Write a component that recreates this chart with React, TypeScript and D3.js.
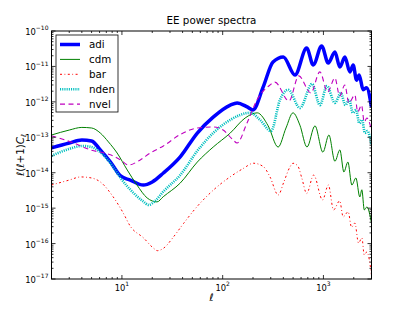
import React, { useEffect, useRef } from 'react'
import * as d3 from 'd3'

// multipoles (ell) and l(l+1)C_l values
const adiEll = [2, 3, 4, 5, 6.1, 7.7, 9.7, 12.1, 16.3, 20, 25.8, 37.9, 56, 80.5, 119, 139, 175, 200, 252, 316, 400, 522, 682, 793, 960, 1117, 1300, 1457, 1633, 1829, 1972, 2132, 2262, 2478, 2678, 3000]
const adiVal = [5.0e-14, 6.9e-14, 8.4e-14, 7.9e-14, 4.4e-14, 2.0e-14, 8.1e-15, 6.2e-15, 4.5e-15, 5.5e-15, 9.8e-15, 2.8e-14, 1.32e-13, 3.7e-13, 8.1e-13, 9.3e-13, 7.2e-13, 5.9e-13, 2.6e-12, 1.33e-11, 1.85e-11, 5.7e-12, 3.3e-11, 1.1e-11, 3.8e-11, 1.25e-11, 2.55e-11, 9.6e-12, 1.85e-11, 7.0e-12, 1.1e-11, 4.1e-12, 5.7e-12, 2.2e-12, 2.5e-12, 7.2e-13]

const cdmEll = [2, 3, 4, 5, 6.1, 7.35, 8.96, 11.3, 14.1, 17.8, 22.3, 25.7, 37.9, 56, 80.5, 119, 167, 220, 283, 355, 425, 499, 584, 687, 824, 988, 1133, 1300, 1456, 1596, 1749, 1916, 2100, 2297, 2405, 2546, 2700, 3000]
const cdmVal = [1.16e-13, 1.6e-13, 1.9e-13, 1.83e-13, 1.32e-13, 7.4e-14, 3.6e-14, 1.19e-14, 4.5e-15, 1.94e-15, 1.5e-15, 2.1e-15, 5.1e-15, 2.0e-14, 5.3e-14, 1.32e-13, 3.5e-13, 4.9e-13, 2.1e-13, 5.3e-14, 1.83e-13, 4.9e-13, 2.2e-13, 5.3e-14, 2.1e-13, 3.8e-14, 1.16e-13, 2.1e-14, 4.4e-14, 1.05e-14, 2.0e-14, 4.5e-15, 7.1e-15, 2.07e-15, 3.3e-15, 8.9e-16, 1.08e-15, 3.8e-16]

const barEll = [2, 3, 3.9, 5, 6.1, 8.2, 10.3, 12.1, 16.4, 20.6, 22.5, 25.9, 32.6, 40.9, 55.6, 81, 119, 161, 202, 254, 295, 356, 405, 465, 499, 557, 610, 682, 800, 980, 1120, 1260, 1450, 1570, 1760, 1900, 2050, 2230, 2410, 2540, 2700, 3000]
const barVal = [4.5e-15, 6.2e-15, 7.6e-15, 7.1e-15, 5.5e-15, 2.07e-15, 7.3e-16, 3.1e-16, 1.44e-16, 7.4e-17, 6.3e-17, 7.4e-17, 1.56e-16, 3.7e-16, 1.1e-15, 3.25e-15, 7.7e-15, 1.33e-14, 1.85e-14, 1.48e-14, 7.6e-15, 2.35e-15, 5.5e-15, 1.45e-14, 1.85e-14, 1.55e-14, 7.1e-15, 2.6e-15, 8.6e-15, 1.7e-15, 4.5e-15, 8.9e-16, 1.6e-15, 5.7e-16, 7.9e-16, 2.9e-16, 3.8e-16, 1.04e-16, 1.44e-16, 4.8e-17, 5.8e-17, 1.3e-17]

const ndenEll = [2, 3, 4, 5, 6.1, 8.2, 9.7, 13, 16.3, 18.4, 21.4, 25.8, 37.9, 57, 80.5, 119, 187, 235, 302, 370, 447, 585, 770, 923, 1084, 1300, 1490, 1650, 1800, 1960, 2110, 2270, 2420, 2580, 2730, 3000]
const ndenVal = [3.0e-14, 4.7e-14, 5.7e-14, 5.3e-14, 3.8e-14, 1.45e-14, 7.1e-15, 2.7e-15, 1.54e-15, 1.23e-15, 1.6e-15, 2.95e-15, 8.6e-15, 4.4e-14, 1.32e-13, 3.1e-13, 4.9e-13, 3.1e-13, 1.5e-13, 1.13e-12, 2.2e-12, 6.7e-13, 3.2e-12, 8.1e-13, 2.8e-12, 9.3e-13, 1.78e-12, 8.1e-13, 1.13e-12, 4.9e-13, 5.9e-13, 2.5e-13, 3.1e-13, 1.32e-13, 1.5e-13, 6.0e-14]

const nvelEll = [2, 3.1, 4.9, 7.7, 9.7, 11.6, 15.2, 19.1, 25.8, 37.9, 56, 80.5, 101, 127, 139, 174, 219, 295, 330, 455, 570, 750, 922, 1100, 1300, 1450, 1630, 1790, 2050, 2190, 2390, 2540, 2700, 3000]
const nvelVal = [1.1e-13, 7.4e-14, 4.4e-14, 3.2e-14, 2.3e-14, 1.65e-14, 2.3e-14, 3.6e-14, 5.7e-14, 1.2e-13, 1.83e-13, 1.95e-13, 1.6e-13, 8.4e-14, 6.9e-14, 2.5e-13, 1.13e-12, 3.0e-12, 3.6e-12, 1.06e-12, 5.4e-12, 1.78e-12, 7.0e-12, 1.9e-12, 4.7e-12, 1.46e-12, 3.0e-12, 9.3e-13, 1.56e-12, 5.2e-13, 8.1e-13, 2.7e-13, 3.5e-13, 1.6e-13]

const xDomain = [2, 3000]
const yDomain = [1e-17, 1e-10]
const xTickExponents = [1, 2, 3]
const yTickExponents = [-17, -16, -15, -14, -13, -12, -11, -10]

interface Series {
  name: string
  ell: number[]
  val: number[]
  color: string
  width: number
  dash: string | null
}

const series: Series[] = [
  { name: 'adi', ell: adiEll, val: adiVal, color: '#0000ff', width: 3.5, dash: null },
  { name: 'cdm', ell: cdmEll, val: cdmVal, color: '#008000', width: 1, dash: null },
  { name: 'bar', ell: barEll, val: barVal, color: '#ff0000', width: 1, dash: '2,2.5,0.8,2.5' },
  { name: 'nden', ell: ndenEll, val: ndenVal, color: '#00bfbf', width: 2.6, dash: '1.1,1.1' },
  { name: 'nvel', ell: nvelEll, val: nvelVal, color: '#bf00bf', width: 1.1, dash: '5,3.5' }
]

const App: React.FC = () => {
  const svgRef = useRef<SVGSVGElement | null>(null)

  useEffect(() => {
    if (!svgRef.current) {
      return
    }
    const svg = d3.select(svgRef.current)
    svg.selectAll('*').remove()

    const left = 51.5
    const right = 371.5
    const top = 31
    const bottom = 279
    const font = 'DejaVu Sans, sans-serif'

    const x = d3.scaleLog().domain(xDomain).range([left, right])
    const y = d3.scaleLog().domain(yDomain).range([bottom, top])

    svg.append('rect').attr('width', 413).attr('height', 310).attr('fill', '#fff')

    svg
      .append('clipPath')
      .attr('id', 'plot-clip')
      .append('rect')
      .attr('x', left)
      .attr('y', top)
      .attr('width', right - left)
      .attr('height', bottom - top)

    const line = d3
      .line<[number, number]>()
      .x((d) => x(d[0]))
      .y((d) => y(d[1]))
      .curve(d3.curveMonotoneX)

    const plot = svg.append('g').attr('clip-path', 'url(#plot-clip)')
    series.forEach((s) => {
      const pts = s.ell.map((e, i) => [e, s.val[i]] as [number, number])
      plot
        .append('path')
        .attr('d', line(pts) ?? '')
        .attr('fill', 'none')
        .attr('stroke', s.color)
        .attr('stroke-width', s.width)
        .attr('stroke-dasharray', s.dash)
        .attr('stroke-linejoin', 'round')
    })

    // frame
    svg
      .append('rect')
      .attr('x', left)
      .attr('y', top)
      .attr('width', right - left)
      .attr('height', bottom - top)
      .attr('fill', 'none')
      .attr('stroke', '#000')
      .attr('stroke-width', 1)

    // ticks (inward, on all four sides)
    const ticks = svg.append('g').attr('stroke', '#000').attr('stroke-width', 0.8)
    x.ticks().forEach((t) => {
      const major = Math.abs(Math.log10(t) - Math.round(Math.log10(t))) < 1e-9
      const len = major ? 4 : 2
      const px = x(t)
      ticks.append('line').attr('x1', px).attr('x2', px).attr('y1', bottom).attr('y2', bottom - len)
      ticks.append('line').attr('x1', px).attr('x2', px).attr('y1', top).attr('y2', top + len)
    })
    y.ticks().forEach((t) => {
      const major = Math.abs(Math.log10(t) - Math.round(Math.log10(t))) < 1e-9
      const len = major ? 4 : 2
      const py = y(t)
      ticks.append('line').attr('x1', left).attr('x2', left + len).attr('y1', py).attr('y2', py)
      ticks.append('line').attr('x1', right).attr('x2', right - len).attr('y1', py).attr('y2', py)
    })

    // tick labels
    yTickExponents.forEach((n) => {
      const t = svg
        .append('text')
        .attr('x', 48.5)
        .attr('y', y(Math.pow(10, n)) + 4)
        .attr('text-anchor', 'end')
        .attr('font-family', font)
        .attr('font-size', 8.4)
        .attr('fill', '#000')
      t.append('tspan').text('10')
      t.append('tspan').attr('dy', -4.6).attr('font-size', 6).text(`\u2212${Math.abs(n)}`)
    })
    xTickExponents.forEach((n) => {
      const t = svg
        .append('text')
        .attr('x', x(Math.pow(10, n)))
        .attr('y', 290.5)
        .attr('text-anchor', 'middle')
        .attr('font-family', font)
        .attr('font-size', 8.4)
        .attr('fill', '#000')
      t.append('tspan').text('10')
      t.append('tspan').attr('dy', -4.6).attr('font-size', 6).text(`${n}`)
    })

    // title and axis labels
    svg
      .append('text')
      .attr('x', (left + right) / 2)
      .attr('y', 24)
      .attr('text-anchor', 'middle')
      .attr('font-family', font)
      .attr('font-size', 10.3)
      .text('EE power spectra')

    svg
      .append('text')
      .attr('x', (left + right) / 2)
      .attr('y', 301)
      .attr('text-anchor', 'middle')
      .attr('font-family', font)
      .attr('font-size', 10.3)
      .attr('font-style', 'italic')
      .text('\u2113')

    const yl = svg
      .append('text')
      .attr('transform', `translate(24,${(top + bottom) / 2}) rotate(-90)`)
      .attr('text-anchor', 'middle')
      .attr('font-family', font)
      .attr('font-size', 10.3)
    yl.append('tspan').attr('font-style', 'italic').text('\u2113')
    yl.append('tspan').text('(')
    yl.append('tspan').attr('font-style', 'italic').text('\u2113')
    yl.append('tspan').text('+1)')
    yl.append('tspan').attr('font-style', 'italic').text('C')
    yl.append('tspan').attr('font-style', 'italic').attr('font-size', 7.2).attr('dy', 2).text('\u2113')

    // legend
    const legend = svg.append('g')
    legend
      .append('rect')
      .attr('x', 56)
      .attr('y', 35)
      .attr('width', 62)
      .attr('height', 77)
      .attr('fill', '#fff')
      .attr('stroke', '#000')
      .attr('stroke-width', 0.8)
    series.forEach((s, i) => {
      const ly = 44.5 + i * 14.9
      legend
        .append('line')
        .attr('x1', 60)
        .attr('x2', 80)
        .attr('y1', ly)
        .attr('y2', ly)
        .attr('stroke', s.color)
        .attr('stroke-width', s.width)
        .attr('stroke-dasharray', s.dash)
      legend
        .append('text')
        .attr('x', 89)
        .attr('y', ly + 3.8)
        .attr('font-family', font)
        .attr('font-size', 10.3)
        .text(s.name)
    })
  }, [])

  return (
    <svg
      ref={svgRef}
      width={413}
      height={310}
      style={{ position: 'absolute', left: 0, top: 0, display: 'block' }}
      role="img"
      aria-label="EE power spectra"
    />
  )
}

export default App
